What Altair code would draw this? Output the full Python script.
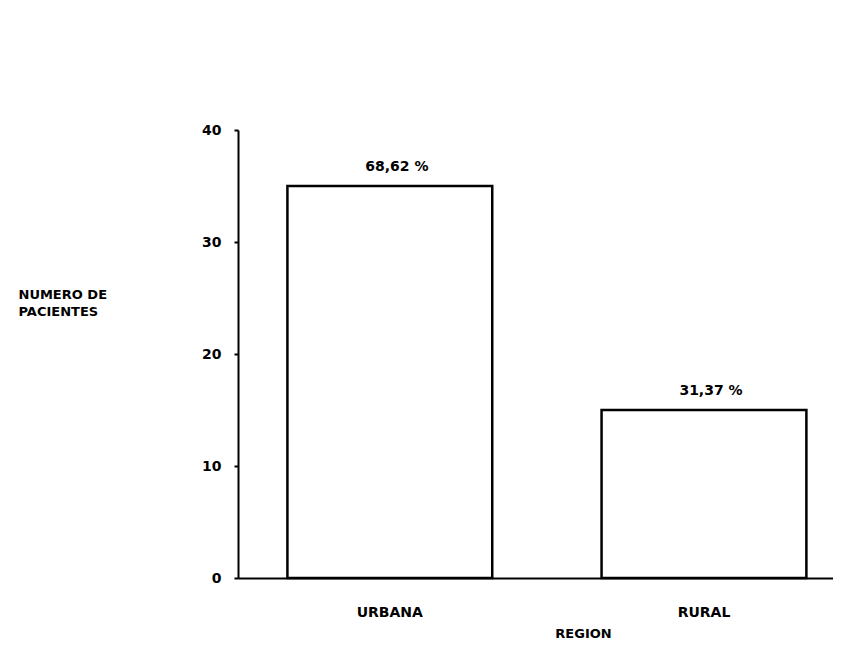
import altair as alt
import pandas as pd

regions = ["URBANA", "RURAL"]
pacientes = [35, 15]
porcentajes = ["68,62 %", "31,37 %"]

df = pd.DataFrame({"region": regions, "n": pacientes, "pct": porcentajes})

FONT = "DejaVu Sans"

x = alt.X(
    "region:N",
    sort=regions,
    scale=alt.Scale(paddingInner=0.348, paddingOuter=0.121, align=0.65),
    axis=alt.Axis(
        title="REGION",
        titleX=345, titleY=49, titleBaseline="top", titleAlign="center",
        titleFont=FONT, titleFontSize=13, titleFontWeight="bold", titleColor="black",
        labelAngle=0, labelFont=FONT, labelFontSize=14, labelFontWeight="bold",
        labelColor="black", labelPadding=27, ticks=False,
        domainColor="black", domainWidth=2,
    ),
)

y = alt.Y(
    "n:Q",
    scale=alt.Scale(domain=[0, 40], nice=False),
    axis=alt.Axis(
        title=["NUMERO DE", "PACIENTES"],
        titleAngle=0, titleX=-220, titleY=158, titleAlign="left", titleBaseline="top",
        titleLineHeight=17,
        titleFont=FONT, titleFontSize=13, titleFontWeight="bold", titleColor="black",
        values=[0, 10, 20, 30, 40], grid=False,
        labelFont=FONT, labelFontSize=14, labelFontWeight="bold", labelColor="black",
        labelPadding=13, tickSize=4, tickColor="black", tickWidth=2,
        domainColor="black", domainWidth=2,
    ),
)

bars = alt.Chart(df).mark_bar(fill="white", stroke="black", strokeWidth=2.5).encode(x=x, y=y)

labels = alt.Chart(df).mark_text(
    baseline="bottom", dy=-12, dx=7, font=FONT, fontSize=14, fontWeight="bold", color="black"
).encode(x=alt.X("region:N", sort=regions), y=alt.Y("n:Q"), text="pct:N")

chart = (bars + labels).properties(
    width=595, height=448,
    background="white",
    autosize=alt.AutoSizeParams(type="none"),
    padding={"left": 230, "top": 122, "right": 0, "bottom": 69},
).configure_view(stroke=None).configure_axis(grid=False)

chart.save("out.html", embed_options={"renderer": "svg", "actions": False})
